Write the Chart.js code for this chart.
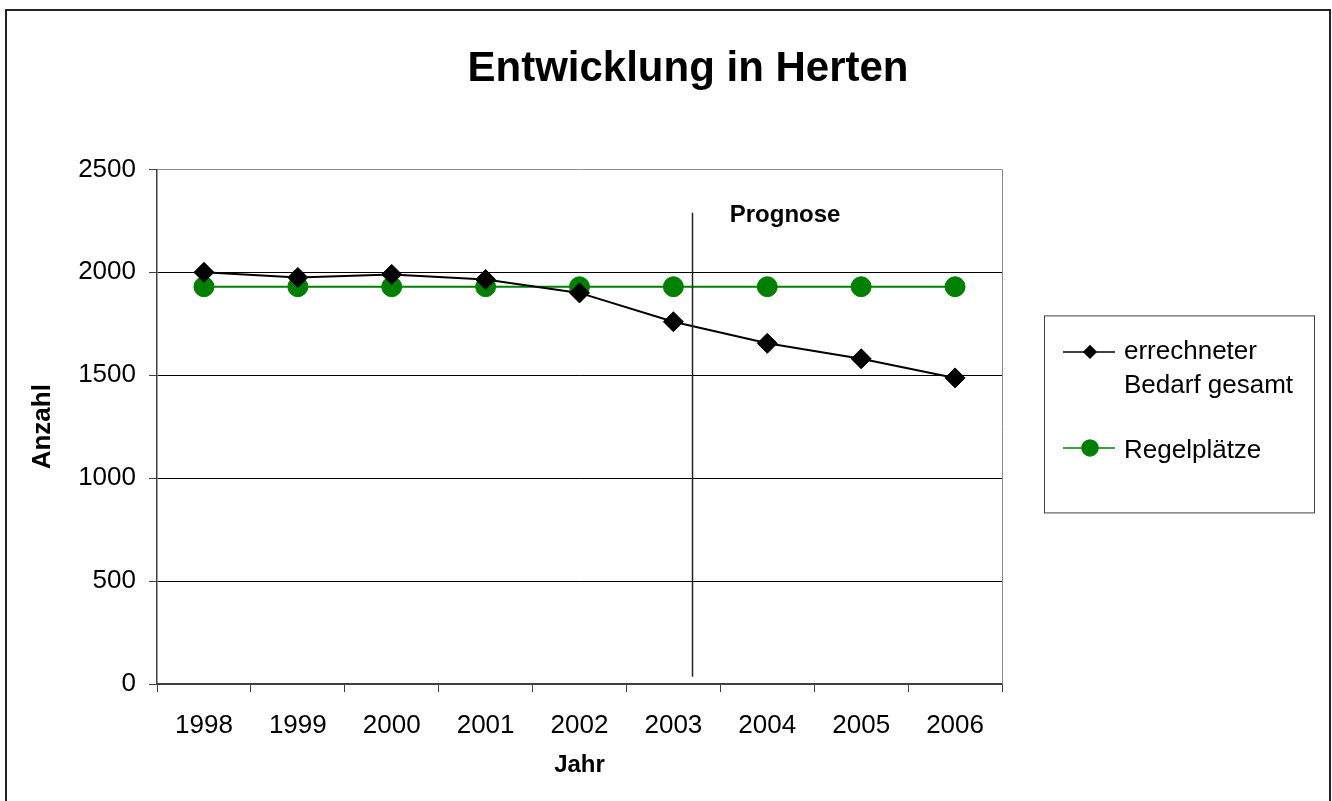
<!DOCTYPE html>
<html><head><meta charset="utf-8">
<script src="https://cdn.jsdelivr.net/npm/chart.js@4.4.0/dist/chart.umd.min.js"></script>
<style>
html,body{margin:0;padding:0;background:#fff;overflow:hidden}
#wrap{position:relative;width:1332px;height:801px}
canvas{position:absolute;left:0;top:0}
#frame{position:absolute;left:5px;top:9px;width:1326px;height:820px;border:2px solid #222;border-bottom:none;box-sizing:border-box;pointer-events:none}
</style></head><body>
<div id="wrap"><canvas id="c" width="1332" height="801"></canvas><div id="frame"></div></div>
<script>
const years = ['1998','1999','2000','2001','2002','2003','2004','2005','2006'];
const bedarf = [2000, 1975, 1990, 1965, 1900, 1760, 1655, 1580, 1487];
const regelplaetze = [1930, 1930, 1930, 1930, 1930, 1930, 1930, 1930, 1930];
const seriesNames = ['errechneter Bedarf gesamt', 'Regelplätze'];
const legendLines = [['errechneter', 'Bedarf gesamt'], ['Regelplätze']];
const yTickValues = [0, 500, 1000, 1500, 2000, 2500];
const prognoseIndex = 5.2;          // between 2003 and 2004
const prognoseRange = [35, 2290];   // vertical extent in data units
const prognoseLabel = 'Prognose';
const prognoseLabelAt = [5.6, 2243];

const FONT = '"Liberation Sans", Arial, Helvetica, sans-serif';

const shiftTitle = {
  id: 'shiftTitle',
  afterLayout(chart) {
    const t = chart.titleBlock;
    if (t) { t.left = 44; t.right = chart.width; }
  }
};

const extras = {
  id: 'extras',
  afterDatasetsDraw(chart) {
    const ctx = chart.ctx, a = chart.chartArea, xs = chart.scales.x, ys = chart.scales.y;
    ctx.save();
    ctx.strokeStyle = '#8a8a8a'; ctx.lineWidth = 1;
    ctx.beginPath(); ctx.moveTo(a.right + 0.5, a.top); ctx.lineTo(a.right + 0.5, a.bottom); ctx.stroke();
    const px = Math.round(xs.getPixelForValue(prognoseIndex)) + 0.5;
    ctx.strokeStyle = '#222'; ctx.lineWidth = 1.5;
    ctx.beginPath(); ctx.moveTo(px, ys.getPixelForValue(prognoseRange[1])); ctx.lineTo(px, ys.getPixelForValue(prognoseRange[0])); ctx.stroke();
    ctx.fillStyle = '#000'; ctx.font = 'bold 24px ' + FONT; ctx.textAlign = 'left'; ctx.textBaseline = 'alphabetic';
    ctx.fillText(prognoseLabel, xs.getPixelForValue(prognoseLabelAt[0]), ys.getPixelForValue(prognoseLabelAt[1]));
    ctx.restore();
  },
  afterDraw(chart) {
    const ctx = chart.ctx, a = chart.chartArea;
    const bx = a.right + 42, by = a.top + 146, bw = 270, bh = 197;
    ctx.save();
    ctx.strokeStyle = '#404040'; ctx.lineWidth = 1;
    ctx.strokeRect(bx + 0.5, by + 0.5, bw, bh);
    const rows = [{y: by + 36, base: by + 44}, {y: by + 132, base: by + 143}];
    const markerR = [6, 8];
    chart.data.datasets.forEach((ds, i) => {
      const r = rows[i];
      ctx.strokeStyle = ds.borderColor; ctx.lineWidth = 1.5;
      ctx.beginPath(); ctx.moveTo(bx + 19, r.y + 0.5); ctx.lineTo(bx + 71, r.y + 0.5); ctx.stroke();
      ctx.fillStyle = ds.pointBackgroundColor; ctx.strokeStyle = ds.pointBorderColor;
      Chart.helpers.drawPoint(ctx, {pointStyle: ds.pointStyle, radius: markerR[i], rotation: 0, borderWidth: 1}, bx + 46, r.y + 0.5);
      ctx.fillStyle = '#000'; ctx.font = '26px ' + FONT; ctx.textAlign = 'left'; ctx.textBaseline = 'alphabetic';
      legendLines[i].forEach((ln, k) => ctx.fillText(ln, bx + 80, r.base + k * 34));
    });
    ctx.restore();
  }
};

new Chart(document.getElementById('c'), {
  type: 'line',
  data: {
    labels: years,
    datasets: [
      {label: seriesNames[0], data: bedarf, borderColor: '#000', backgroundColor: '#000',
       borderWidth: 2, pointStyle: 'rectRot', pointRadius: 10, pointBorderWidth: 1,
       pointBackgroundColor: '#000', pointBorderColor: '#000', tension: 0, fill: false},
      {label: seriesNames[1], data: regelplaetze, borderColor: '#008000', backgroundColor: '#008000',
       borderWidth: 2, pointStyle: 'circle', pointRadius: 10, pointBorderWidth: 1,
       pointBackgroundColor: '#008000', pointBorderColor: '#008000', tension: 0, fill: false}
    ]
  },
  options: {
    responsive: false,
    animation: false,
    layout: {padding: {left: 0, right: 330, top: 0, bottom: 0}},
    plugins: {
      legend: {display: false},
      tooltip: {enabled: false},
      title: {display: true, text: 'Entwicklung in Herten', color: '#000',
        font: {family: FONT, size: 42, weight: 'bold', lineHeight: 1.2},
        padding: {top: 44, bottom: 75}}
    },
    scales: {
      x: {
        type: 'category', offset: true,
        grid: {display: true, drawOnChartArea: false, drawTicks: true, tickLength: 8, tickColor: '#404040', offset: true, tickWidth: 1},
        border: {display: true, color: '#404040', width: 2},
        ticks: {color: '#000', font: {family: FONT, size: 26}, padding: 18, maxRotation: 0, autoSkip: false},
        title: {display: true, text: 'Jahr', color: '#000', font: {family: FONT, size: 24, weight: 'bold', lineHeight: 1.2}, padding: {top: 0, bottom: 21}},
        afterFit(s) { s.height = 117; }
      },
      y: {
        min: 0, max: 2500,
        afterBuildTicks(s) { s.ticks = yTickValues.map(v => ({value: v})); },
        ticks: {color: '#000', font: {family: FONT, size: 26}, padding: 13, callback: v => String(v)},
        grid: {color: c => (c.tick && c.tick.value === 2500) ? '#8a8a8a' : '#000', lineWidth: 1, tickColor: '#404040', tickLength: 8},
        border: {display: true, color: '#404040', width: 1.5},
        title: {display: true, text: 'Anzahl', color: '#000', font: {family: FONT, size: 26, weight: 'bold', lineHeight: 1.2}, padding: {top: 27, bottom: 0}},
        afterFit(s) { s.width = 157; }
      }
    }
  },
  plugins: [shiftTitle, extras]
});
</script>
</body></html>
